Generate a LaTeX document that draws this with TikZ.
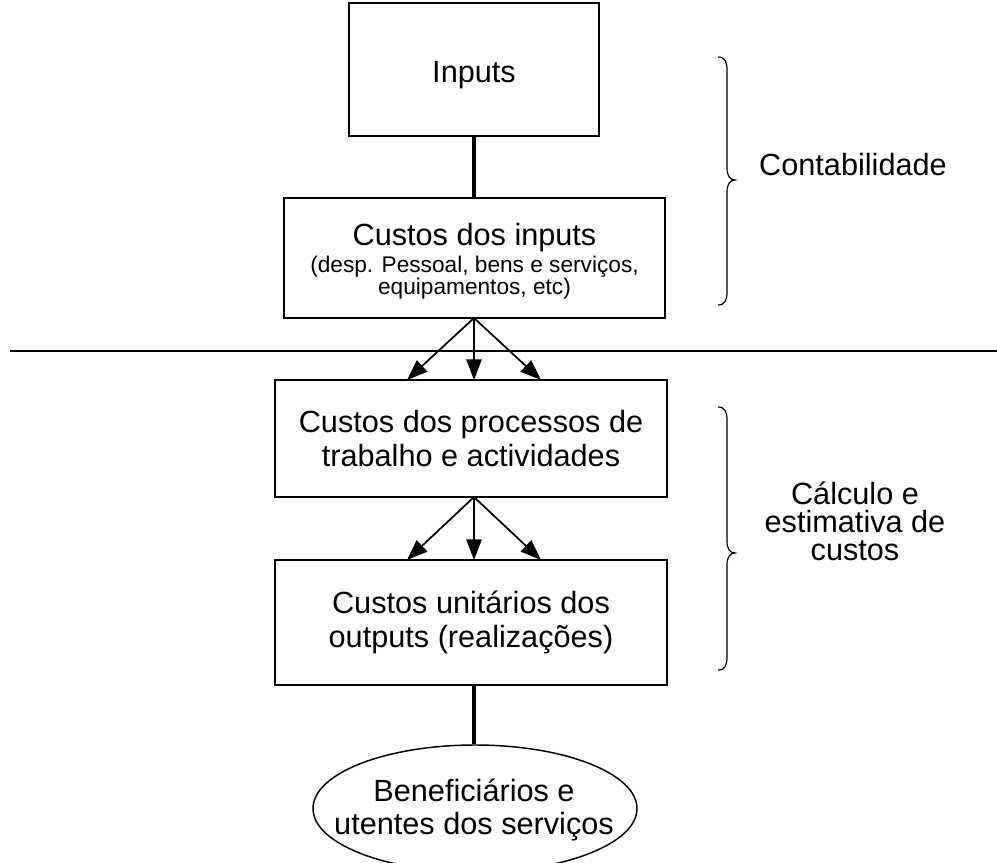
\documentclass[tikz,border=0pt]{standalone}
\usepackage{fontspec}
\setmainfont{Liberation Sans}
\usetikzlibrary{arrows.meta,shapes.geometric}
\begin{document}
\begin{tikzpicture}[x=0.75pt,y=-0.75pt,
  box/.style={draw,line width=1.1pt,inner sep=0pt,align=center,font=\fontsize{23}{26}\selectfont},
  txt/.style={inner sep=0pt,align=center,font=\fontsize{23}{24.5}\selectfont},
  thin/.style={line width=1.1pt},
  thick conn/.style={line width=2.3pt},
  arr/.style={line width=1.3pt,-{Triangle[length=15.5pt,width=11.5pt]}},
  lab/.style={align=center,font=\fontsize{23}{21}\selectfont},
  bracestyle/.style={line width=0.9pt}]
\useasboundingbox (0,0) rectangle (997,863);
\begin{scope}
\clip (0,0) rectangle (997,863);
\node[box,minimum width=187.5pt,minimum height=99.75pt] (inputs) at (474,69.5) {};
\node[txt] (inputsText) at (474,75) {Inputs};
\node[box,minimum width=285.75pt,minimum height=90pt] (cinputs) at (474.5,258) {};
\node[txt] (cinputsText) at (474.5,261)
  {Custos dos inputs\\[-4.5pt]{\fontsize{17}{17.5}\selectfont (desp. Pessoal, bens e serviços,}\\[-8pt]{\fontsize{17}{17.5}\selectfont equipamentos, etc)}};
\node[box,minimum width=294pt,minimum height=87.75pt] (proc) at (471,438.5)
  {Custos dos processos de\\trabalho e actividades};
\node[box,minimum width=294pt,minimum height=93.75pt] (unit) at (471,622.5)
  {Custos unitários dos\\outputs (realizações)};
\node[draw,ellipse,line width=1.1pt,inner sep=0pt,minimum width=243pt,minimum height=95.25pt] (benef) at (475,808.5) {};
\node[txt] (benefText) at (474,810) {Beneficiários e\\utentes dos serviços};
\end{scope}

\coordinate (cinb) at (474,318);
\coordinate (procb) at (474,497);
\draw[thick conn] (inputs.south -| cinb) -- (cinputs.north -| cinb);
\draw[thick conn] (unit.south -| cinb) -- (benef.north -| cinb);
\coordinate (sepL) at (10,351);
\coordinate (sepR) at (997,351);
\draw[thin] (sepL) -- (sepR);

\coordinate (a1) at (407,380);
\coordinate (a2) at (474,380);
\coordinate (a3) at (541,380);
\draw[arr] (cinb) -- (a1);
\draw[arr] (cinb) -- (a2);
\draw[arr] (cinb) -- (a3);
\coordinate (b1) at (407,560);
\coordinate (b2) at (474,560);
\coordinate (b3) at (541,560);
\draw[arr] (procb) -- (b1);
\draw[arr] (procb) -- (b2);
\draw[arr] (procb) -- (b3);

\draw[bracestyle] (718,57) .. controls (725,57) and (727,62) .. (727,70) -- (727,168)
  .. controls (727,176) and (730,180) .. (735,180)
  .. controls (730,180) and (727,184) .. (727,192) -- (727,292)
  .. controls (727,300) and (725,305) .. (718,305);
\draw[bracestyle] (718,407) .. controls (725,407) and (727,412) .. (727,420) -- (727,541)
  .. controls (727,549) and (730,553) .. (735,553)
  .. controls (730,553) and (727,557) .. (727,565) -- (727,657)
  .. controls (727,665) and (725,670) .. (718,670);

\node[lab] (contab) at (853,165) {Contabilidade};
\node[lab] (calc) at (855,521) {Cálculo e\\estimativa de\\custos};
\end{tikzpicture}
\end{document}
